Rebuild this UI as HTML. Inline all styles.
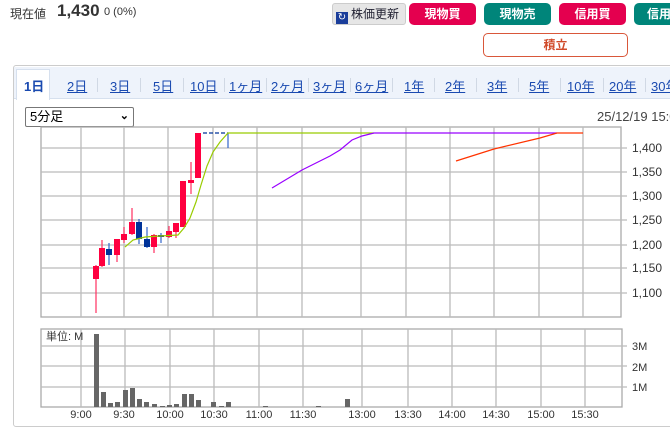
<!DOCTYPE html>
<html><head><meta charset="utf-8"><style>
body{margin:0;width:670px;height:422px;overflow:hidden;background:#fff;font-family:"Liberation Sans","Noto Sans CJK JP",sans-serif;position:relative}
.a{position:absolute;white-space:nowrap}
.btn{position:absolute;top:3px;height:22px;border-radius:5px;color:#fff;font-size:12px;font-weight:bold;text-align:center;line-height:22px}
.r{background:#e4004f}.t{background:#00857a}
.tab{position:absolute;top:76px;font-size:13px;color:#1a4ab0;text-decoration:underline;white-space:nowrap}
.sep{position:absolute;top:78px;width:1px;height:14px;background:#d0d8e4}
</style></head><body>
<div class="a" style="left:10px;top:5px;font-size:12px;color:#333">現在値</div>
<div class="a" style="left:57px;top:1px;font-size:17px;font-weight:bold;color:#333">1,430</div>
<div class="a" style="left:104px;top:6px;font-size:11px;color:#333">0 (0%)</div>
<div class="a" style="left:332px;top:3px;width:72px;height:20px;background:#e6e6e6;border:1px solid #ccc;border-radius:3px;font-size:12px;line-height:20px;color:#223">
<span style="display:inline-block;width:12px;height:12px;background:#1a3d9a;margin:0 3px 0 3px;vertical-align:-2px;color:#fff;font-size:10px;line-height:12px;text-align:center">↻</span>株価更新</div>
<div class="btn r" style="left:409px;width:67px">現物買</div>
<div class="btn t" style="left:484px;width:67px">現物売</div>
<div class="btn r" style="left:559px;width:67px">信用買</div>
<div class="btn t" style="left:634px;width:50px">信用</div>
<div class="a" style="left:483px;top:33px;width:143px;height:22px;border:1px solid #d9573a;border-radius:5px;text-align:center;line-height:22px;font-size:12px;font-weight:bold;color:#d04a2a">積立</div>
<div class="a" style="left:13px;top:65px;width:660px;height:360px;border:1px solid #ccc;border-radius:3px"></div>
<div class="a" style="left:14px;top:67px;width:660px;height:31px;background:#eef3fb;border-bottom:1px solid #d6e0ee"></div>
<div class="a" style="left:16px;top:69px;width:32px;height:30px;background:#fff;border:1px solid #d6e0ee;border-bottom:none"></div>
<div class="tab" style="left:24px;color:#1a4ab0;text-decoration:none;font-weight:bold">1日</div>
<div class="tab" style="left:67px">2日</div>
<div class="tab" style="left:110px">3日</div>
<div class="tab" style="left:153px">5日</div>
<div class="tab" style="left:190px">10日</div>
<div class="tab" style="left:229px">1ヶ月</div>
<div class="tab" style="left:271px">2ヶ月</div>
<div class="tab" style="left:313px">3ヶ月</div>
<div class="tab" style="left:355px">6ヶ月</div>
<div class="tab" style="left:404px">1年</div>
<div class="tab" style="left:445px">2年</div>
<div class="tab" style="left:487px">3年</div>
<div class="tab" style="left:529px">5年</div>
<div class="tab" style="left:567px">10年</div>
<div class="tab" style="left:609px">20年</div>
<div class="tab" style="left:651px">30年</div>
<div class="sep" style="left:97px"></div><div class="sep" style="left:140px"></div><div class="sep" style="left:183px"></div><div class="sep" style="left:224px"></div><div class="sep" style="left:266px"></div><div class="sep" style="left:308px"></div><div class="sep" style="left:350px"></div><div class="sep" style="left:392px"></div><div class="sep" style="left:434px"></div><div class="sep" style="left:476px"></div><div class="sep" style="left:518px"></div><div class="sep" style="left:560px"></div><div class="sep" style="left:603px"></div><div class="sep" style="left:645px"></div>
<div class="a" style="left:25px;top:107px;font-size:13px;line-height:18px;padding-left:4px;box-sizing:border-box;width:109px;height:20px;border:1px solid #777;border-radius:2px">5分足<span style="position:absolute;right:4px;top:-1px;font-size:11px;font-weight:bold">&#x2304;</span></div>
<div class="a" style="left:597px;top:109px;font-size:13px;color:#444">25/12/19 15:00</div>
<svg class="a" style="left:0;top:0" width="670" height="422" font-family="Liberation Sans, sans-serif" font-size="11" fill="#333">
<g stroke="#bbb" stroke-width="1.3">
<rect x="41" y="127" width="580" height="190" fill="none" stroke="#aaa"/>
<path d="M81 127V317M124 127V317M168 127V317M213 127V317M257 127V317M302 127V317M361 127V317M406 127V317M450 127V317M494 127V317M539 127V317M583 127V317"/>
<path d="M41 148H627M41 172H627M41 196H627M41 220H627M41 245H627M41 268H627M41 293H627"/>
<rect x="41" y="329" width="581" height="78" fill="none" stroke="#aaa"/>
<path d="M81 329V407M125 329V407M170 329V407M214 329V407M259 329V407M303 329V407M362 329V407M408 329V407M452 329V407M496 329V407M541 329V407M585 329V407"/>
<path d="M41 346H627M41 366H627M41 387H627"/>
</g>
<g font-size="12">
<text x="632" y="152">1,400</text><text x="632" y="176">1,350</text><text x="632" y="200">1,300</text><text x="632" y="224">1,250</text><text x="632" y="249">1,200</text><text x="632" y="272">1,150</text><text x="632" y="297">1,100</text>
</g>
<g font-size="11"><text x="632" y="350">3M</text><text x="632" y="371">2M</text><text x="632" y="391">1M</text>
<text x="46" y="340">単位: M</text></g>
<g font-size="11" text-anchor="middle"><text x="81" y="418">9:00</text><text x="124" y="418">9:30</text><text x="170" y="418">10:00</text><text x="214" y="418">10:30</text><text x="259" y="418">11:00</text><text x="303" y="418">11:30</text><text x="362" y="418">13:00</text><text x="408" y="418">13:30</text><text x="452" y="418">14:00</text><text x="496" y="418">14:30</text><text x="541" y="418">15:00</text><text x="585" y="418">15:30</text></g>
<g stroke-width="1.2">
<g stroke="#ff3060"><path d="M96 265V313M102 240V267M117 239V262M124 227V243M132 208V235M154 234V253M169 226V238M176 223V238M191 162V194"/></g>
<g stroke="#3366cc"><path d="M109 243V265M139 219V244M147 227V248M161 233V243M228 133V148"/></g>
</g>
<g fill="#ff0040">
<rect x="93" y="266" width="6" height="13"/><rect x="99" y="248" width="6" height="18"/><rect x="114" y="239" width="6" height="16"/><rect x="121" y="234" width="6" height="6"/><rect x="129" y="222" width="6" height="12"/><rect x="151" y="235" width="6" height="12"/><rect x="166" y="231" width="6" height="6"/><rect x="173" y="223" width="6" height="9"/><rect x="180" y="181" width="6" height="46"/><rect x="188" y="180" width="6" height="3"/><rect x="195" y="133" width="6" height="45"/>
</g>
<g fill="#003399"><rect x="106" y="249" width="6" height="6"/><rect x="136" y="222" width="6" height="17"/><rect x="144" y="239" width="6" height="8"/><rect x="158" y="235" width="6" height="2"/></g>
<path d="M203 133H228" stroke="#003399" stroke-dasharray="4,2" stroke-width="1.2"/>
<polyline fill="none" stroke="#99cc00" stroke-width="1.2" points="125,247 133,240 145,237 160,236 178,235 184,228 190,218 196,202 201,185 207,166 213,152 220,142 228,133 374,133"/>
<polyline fill="none" stroke="#9900ff" stroke-width="1.2" points="272,188 302,170 330,156 340,150 352,140 362,136 374,133 557,133"/>
<polyline fill="none" stroke="#ff3300" stroke-width="1.2" points="456,161 494,149 540,138 557,133 583,133"/>
<g fill="#666">
<rect x="94" y="334" width="5" height="73"/><rect x="101" y="392" width="5" height="15"/><rect x="108" y="403" width="5" height="4"/><rect x="115" y="402" width="5" height="5"/><rect x="123" y="390" width="5" height="17"/><rect x="130" y="388" width="5" height="19"/><rect x="137" y="399" width="5" height="8"/><rect x="144" y="402" width="5" height="5"/><rect x="152" y="404" width="5" height="3"/><rect x="160" y="406" width="5" height="1"/><rect x="167" y="405" width="5" height="2"/><rect x="174" y="404" width="5" height="3"/><rect x="182" y="394" width="5" height="13"/><rect x="189" y="394" width="5" height="13"/><rect x="196" y="400" width="5" height="7"/><rect x="211" y="402" width="5" height="5"/><rect x="219" y="406" width="5" height="1"/><rect x="226" y="402" width="5" height="5"/><rect x="263" y="406" width="5" height="1"/><rect x="316" y="406" width="5" height="1"/><rect x="345" y="399" width="5" height="8"/>
</g>
</svg>
</body></html>
